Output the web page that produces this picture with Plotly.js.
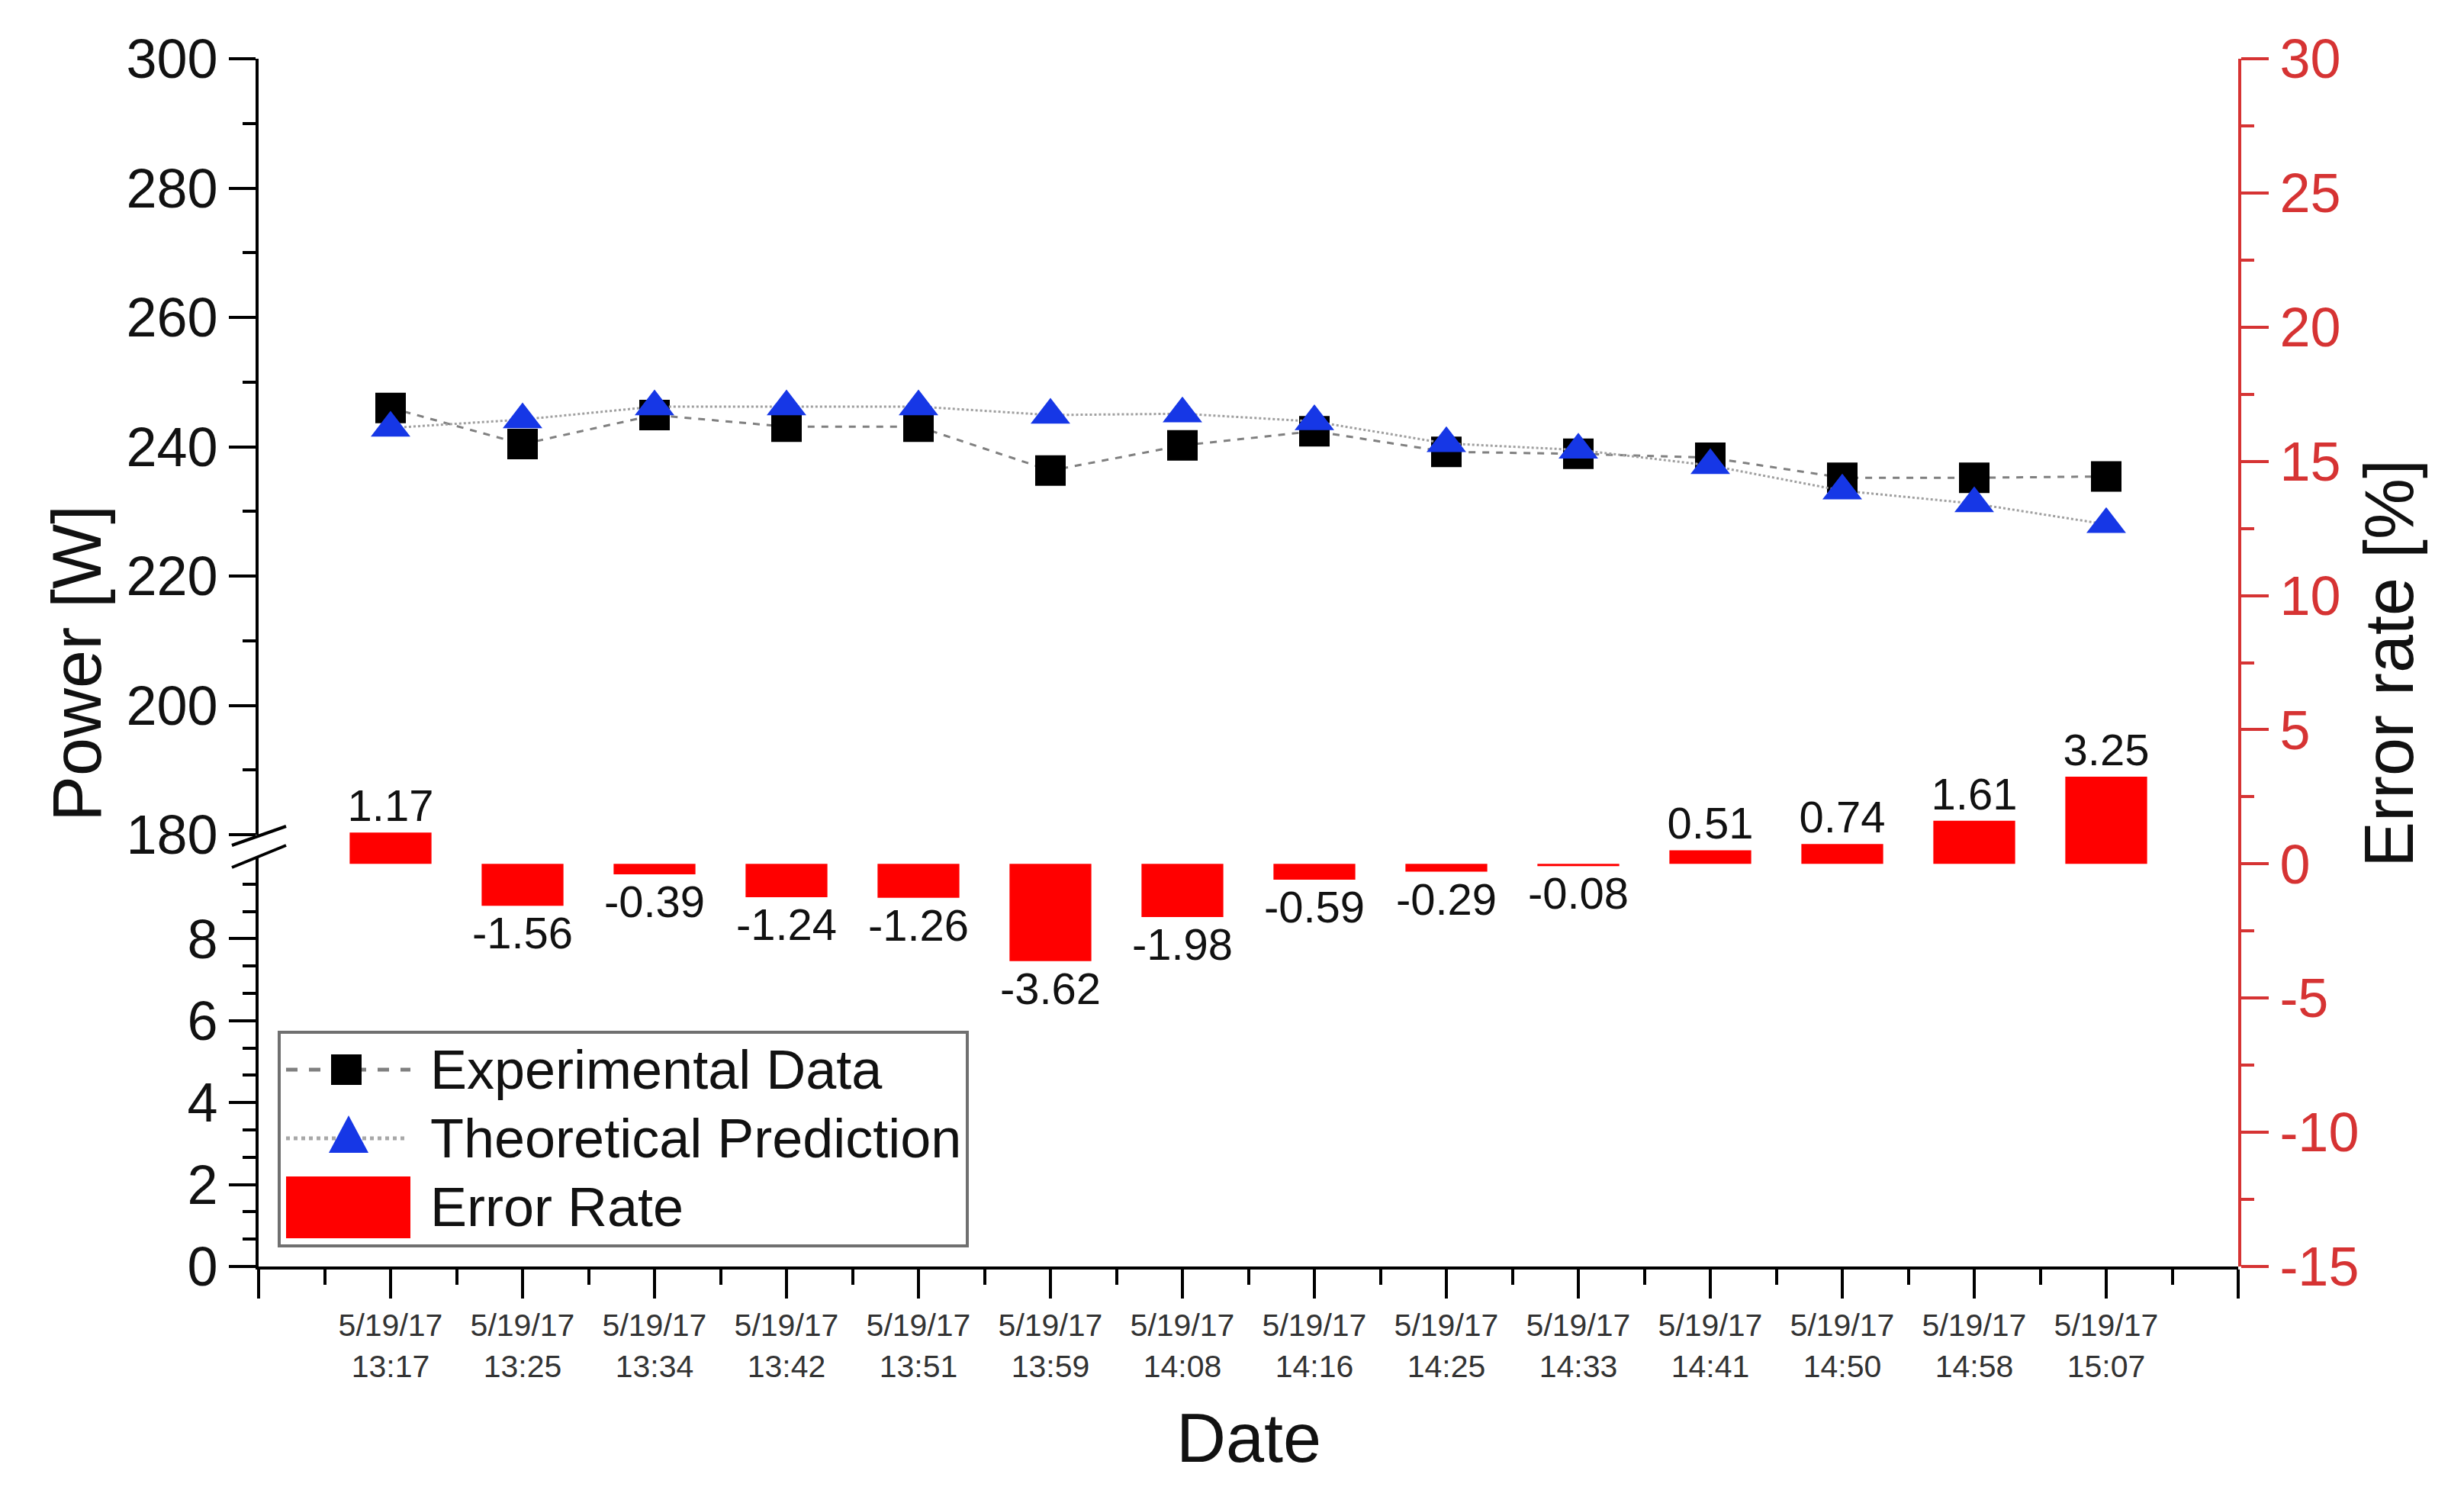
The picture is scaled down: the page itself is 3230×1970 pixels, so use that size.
<!DOCTYPE html>
<html>
<head>
<meta charset="utf-8">
<script src="https://cdn.plot.ly/plotly-3.0.1.min.js"></script>
<style>html,body{margin:0;padding:0;background:#fff;}#chart{width:3230px;height:1970px;}</style>
</head>
<body>
<div id="chart"></div>
<script>
// ---- data ----
const categories = ['5/19/17<br>13:17','5/19/17<br>13:25','5/19/17<br>13:34','5/19/17<br>13:42','5/19/17<br>13:51','5/19/17<br>13:59','5/19/17<br>14:08','5/19/17<br>14:16','5/19/17<br>14:25','5/19/17<br>14:33','5/19/17<br>14:41','5/19/17<br>14:50','5/19/17<br>14:58','5/19/17<br>15:07'];
const experimental = [246.0, 240.4, 244.9, 243.1, 243.1, 236.3, 240.2, 242.4, 239.2, 238.9, 238.3, 235.2, 235.2, 235.4];
const theoretical  = [242.9, 244.2, 246.2, 246.2, 246.2, 244.9, 245.1, 243.9, 240.5, 239.5, 237.1, 233.2, 231.2, 228.0];
const errorRate    = [1.17, -1.56, -0.39, -1.24, -1.26, -3.62, -1.98, -0.59, -0.29, -0.08, 0.51, 0.74, 1.61, 3.25];
const seriesNames  = ['Experimental Data', 'Theoretical Prediction', 'Error Rate'];
const lowerTicks   = [0, 2, 4, 6, 8];
const errorTicks   = [-15, -10, -5, 0, 5, 10, 15, 20, 25, 30];

// ---- layout helpers (pixel -> paper) ----
const W = 3230, H = 1970;
const L = 339, R = 2934, T = 77, B = 1660;
const px = X => (X - L) / (R - L);
const py = Y => (B - Y) / (B - T);

const FONT = 'Liberation Sans, Arial, Helvetica, sans-serif';
const RED = '#d63333';
const xpos = categories.map((c, i) => i + 1);

const traces = [
  // empty carrier trace so that the lower (broken) power axis gets its own subplot
  {type: 'scatter', mode: 'markers', x: [], y: [], xaxis: 'x', yaxis: 'y', showlegend: false, hoverinfo: 'skip'},
  {
    type: 'bar', name: seriesNames[2], x: xpos, y: errorRate,
    xaxis: 'x', yaxis: 'y3', width: 0.62,
    marker: {color: '#ff0000', line: {width: 0}},
    texttemplate: '%{y:.2f}', textposition: 'outside', constraintext: 'none',
    cliponaxis: false, textfont: {family: FONT, size: 58, color: '#111'},
    showlegend: false, hoverinfo: 'skip'
  },
  {
    type: 'scatter', mode: 'lines+markers', name: seriesNames[0], x: xpos, y: experimental,
    xaxis: 'x', yaxis: 'y2',
    line: {color: '#808080', width: 3, dash: 'dash'},
    marker: {symbol: 'square', size: 40, color: '#000'},
    showlegend: false, cliponaxis: false
  },
  {
    type: 'scatter', mode: 'lines+markers', name: seriesNames[1], x: xpos, y: theoretical,
    xaxis: 'x', yaxis: 'y2',
    line: {color: '#a0a0a0', width: 3, dash: 'dot'},
    marker: {symbol: 'triangle-up', size: 45, color: '#1637e6'},
    showlegend: false, cliponaxis: false
  }
];

const tickFont = {family: FONT, size: 72, color: '#111'};
const layout = {
  width: W, height: H,
  margin: {l: L, r: W - R, t: T, b: H - B, pad: 0},
  paper_bgcolor: '#fff', plot_bgcolor: 'rgba(0,0,0,0)',
  showlegend: false,
  font: {family: FONT, color: '#111'},
  xaxis: {
    domain: [0, 1], anchor: 'y', range: [0, 15],
    tickmode: 'array', tickvals: [0].concat(xpos, [15]), ticktext: [''].concat(categories, ['']),
    showline: true, linecolor: '#000', linewidth: 4,
    ticks: 'outside', ticklen: 38, tickwidth: 4, tickcolor: '#000',
    minor: {dtick: 0.5, tick0: 0, ticks: 'outside', ticklen: 20, tickwidth: 4, tickcolor: '#000'},
    tickfont: {family: FONT, size: 41, color: '#333'},
    showgrid: false, zeroline: false, fixedrange: true
  },
  yaxis: {
    domain: [0, py(1123)], anchor: 'x', range: [0, 10],
    tickmode: 'array', tickvals: lowerTicks, ticktext: lowerTicks.map(String),
    showline: true, linecolor: '#000', linewidth: 4,
    ticks: 'outside', ticklen: 35, tickwidth: 4, tickcolor: '#000',
    minor: {tickmode: 'array', tickvals: [2/3, 4/3, 8/3, 10/3, 14/3, 16/3, 20/3, 22/3, 26/3, 28/3],
            ticks: 'outside', ticklen: 17, tickwidth: 4, tickcolor: '#000'},
    tickfont: tickFont, showgrid: false, zeroline: false, fixedrange: true
  },
  yaxis2: {
    domain: [py(1094), 1], anchor: 'x', range: [180, 300],
    tick0: 180, dtick: 20,
    showline: true, linecolor: '#000', linewidth: 4,
    ticks: 'outside', ticklen: 35, tickwidth: 4, tickcolor: '#000',
    minor: {dtick: 10, tick0: 180, ticks: 'outside', ticklen: 17, tickwidth: 4, tickcolor: '#000'},
    tickfont: tickFont, showgrid: false, zeroline: false, fixedrange: true
  },
  yaxis3: {
    domain: [0, 1], anchor: 'x', side: 'right', range: [-15, 30],
    tickmode: 'array', tickvals: errorTicks, ticktext: errorTicks.map(String),
    showline: true, linecolor: RED, linewidth: 4,
    ticks: 'outside', ticklen: 36, tickwidth: 4, tickcolor: RED,
    minor: {dtick: 2.5, tick0: 0, ticks: 'outside', ticklen: 17, tickwidth: 4, tickcolor: RED},
    tickfont: {family: FONT, size: 72, color: RED},
    showgrid: false, zeroline: false, fixedrange: true
  },
  shapes: [
    // axis break marks
    {type: 'line', xref: 'paper', yref: 'paper', x0: px(304), y0: py(1108), x1: px(375), y1: py(1083), line: {color: '#000', width: 4}},
    {type: 'line', xref: 'paper', yref: 'paper', x0: px(304), y0: py(1137), x1: px(375), y1: py(1108), line: {color: '#000', width: 4}},
    // legend box
    {type: 'rect', xref: 'paper', yref: 'paper', x0: px(366), x1: px(1268), y0: py(1633), y1: py(1353), line: {color: '#707070', width: 4}, fillcolor: '#fff', layer: 'above'},
    {type: 'line', xref: 'paper', yref: 'paper', x0: px(375), x1: px(538), y0: py(1402), y1: py(1402), line: {color: '#808080', width: 5, dash: 'dash'}, layer: 'above'},
    {type: 'rect', xref: 'paper', yref: 'paper', x0: px(434), x1: px(474), y0: py(1422), y1: py(1382), line: {width: 0}, fillcolor: '#000', layer: 'above'},
    {type: 'line', xref: 'paper', yref: 'paper', x0: px(375), x1: px(532), y0: py(1492), y1: py(1492), line: {color: '#a8a8a8', width: 5, dash: 'dot'}, layer: 'above'},
    {type: 'path', xref: 'paper', yref: 'paper',
     path: 'M' + px(431) + ',' + py(1511) + ' L' + px(483) + ',' + py(1511) + ' L' + px(457) + ',' + py(1462) + ' Z',
     line: {width: 0}, fillcolor: '#1637e6', layer: 'above'},
    {type: 'rect', xref: 'paper', yref: 'paper', x0: px(375), x1: px(538), y0: py(1623), y1: py(1542), line: {width: 0}, fillcolor: '#ff0000', layer: 'above'}
  ],
  annotations: [
    {xref: 'paper', yref: 'paper', x: px(101), y: py(870), text: 'Power [W]', textangle: -90, showarrow: false,
     xanchor: 'center', yanchor: 'middle', font: {family: FONT, size: 90, color: '#111'}},
    {xref: 'paper', yref: 'paper', x: px(3132), y: py(870), text: 'Error rate [%]', textangle: -90, showarrow: false,
     xanchor: 'center', yanchor: 'middle', font: {family: FONT, size: 90, color: '#111'}},
    {xref: 'paper', yref: 'paper', x: px(1637), y: py(1885), text: 'Date', showarrow: false,
     xanchor: 'center', yanchor: 'middle', font: {family: FONT, size: 90, color: '#111'}},
    {xref: 'paper', yref: 'paper', x: px(562), y: py(1402), text: seriesNames[0], showarrow: false,
     xanchor: 'left', yanchor: 'middle', font: {family: FONT, size: 72, color: '#111'}},
    {xref: 'paper', yref: 'paper', x: px(562), y: py(1492), text: seriesNames[1], showarrow: false,
     xanchor: 'left', yanchor: 'middle', font: {family: FONT, size: 72, color: '#111'}},
    {xref: 'paper', yref: 'paper', x: px(562), y: py(1582), text: seriesNames[2], showarrow: false,
     xanchor: 'left', yanchor: 'middle', font: {family: FONT, size: 72, color: '#111'}}
  ]
};

Plotly.newPlot('chart', traces, layout, {staticPlot: true, displayModeBar: false});
</script>
</body>
</html>
